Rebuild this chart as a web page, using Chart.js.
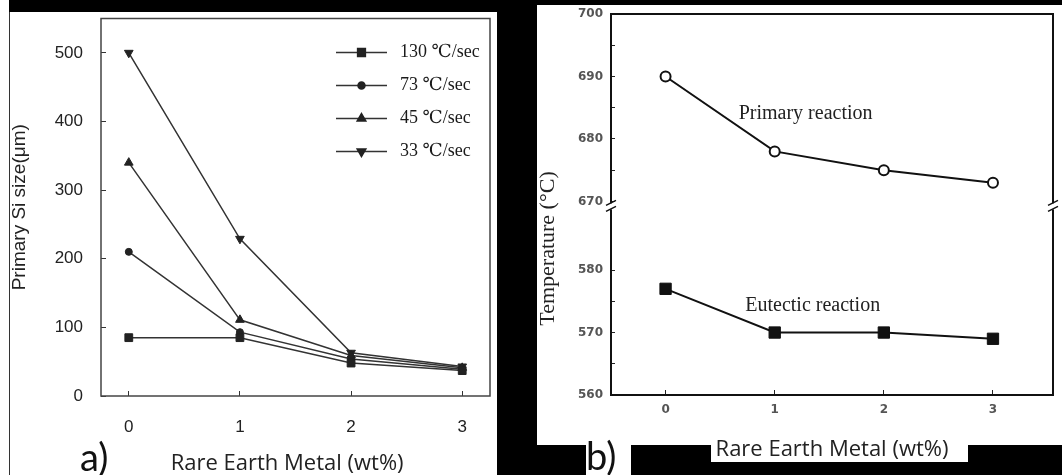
<!DOCTYPE html>
<html><head><meta charset="utf-8">
<script src="https://cdn.jsdelivr.net/npm/chart.js@4.4.1/dist/chart.umd.min.js"></script>
<style>
html,body{margin:0;padding:0;background:#fff;width:1062px;height:475px;overflow:hidden;position:relative}
.blk{position:absolute;background:#000}
canvas{position:absolute}
#ca{left:10px;top:12px}
#cb{left:537px;top:5px}
.lbl{position:absolute;font-family:Lato,"Open Sans",sans-serif;font-size:38px;line-height:38px;color:#111}
</style></head><body>
<div class="blk" style="left:9px;top:0;width:528px;height:12px"></div>
<div class="blk" style="left:9px;top:12px;width:1px;height:463px;background:#333"></div>
<div class="blk" style="left:497px;top:0;width:40px;height:475px"></div>
<div class="blk" style="left:537px;top:0;width:525px;height:5px"></div>
<div class="blk" style="left:497px;top:445px;width:89px;height:30px"></div>
<div class="blk" style="left:631px;top:445px;width:80px;height:30px"></div>
<div class="blk" style="left:711px;top:462px;width:257px;height:13px"></div>
<div class="blk" style="left:968px;top:445px;width:94px;height:30px"></div>
<canvas id="ca" width="487" height="463"></canvas>
<canvas id="cb" width="525" height="465"></canvas>
<div class="lbl" style="left:80px;top:437px">a)</div>
<div class="lbl" style="left:586px;top:436px">b)</div>
<script>
// ---- data ----
const reX = [0, 1, 2, 3];
const legendLabels = ['130 \u2103/sec', '73 \u2103/sec', '45 \u2103/sec', '33 \u2103/sec'];
const size130 = [85, 85, 48, 37];
const size73 = [210, 93, 54, 39];
const size45 = [340, 111, 59, 41];
const size33 = [500, 229, 63, 43];
const sizeTicks = [0, 100, 200, 300, 400, 500];
const xTicks = [0, 1, 2, 3];
const primaryT = [690, 678, 675, 673];
const eutecticT = [577, 570, 570, 569];
const tempTicks = [560, 565, 570, 575, 580, 670, 675, 680, 685, 690, 695, 700];
const tempLabels = ['560', '', '570', '', '580', '670', '', '680', '', '690', '', '700'];
const xTitle = 'Rare Earth Metal (wt%)';

// broken temperature axis: 560-580 and 670-700 with a gap between
const BREAK_GAP = 11;
function toAxis(v) { return v >= 670 ? v - 670 + 20 + BREAK_GAP : v - 560; }
const pts = (ys, f) => reX.map((x, i) => ({x: x, y: f ? f(ys[i]) : ys[i]}));

function drawMarker(ctx, style, r, x, y, rot) {
  if (Chart.helpers && Chart.helpers.drawPoint) {
    Chart.helpers.drawPoint(ctx, {pointStyle: style, radius: r, rotation: rot || 0, borderWidth: 1}, x, y);
  }
}
const fitV = w => s => { s.width = w; s.paddingTop = 0; s.paddingBottom = 0; };
const fitH = h => s => { s.height = h; s.paddingLeft = 0; s.paddingRight = 0; };

const frame = {
  id: 'frame',
  beforeDatasetsDraw(chart, args, o) {
    const a = chart.chartArea, ctx = chart.ctx;
    ctx.save();
    ctx.strokeStyle = o.color; ctx.lineWidth = o.width;
    ctx.strokeRect(a.left, a.top, a.right - a.left, a.bottom - a.top);
    ctx.restore();
  }
};

const legendA = {
  id: 'legendA',
  afterDraw(chart) {
    const a = chart.chartArea, ctx = chart.ctx;
    ctx.save();
    chart.data.datasets.forEach((ds, i) => {
      const y = a.top + 34 + i * 33;
      const x0 = a.right - 154, x1 = a.right - 103;
      ctx.strokeStyle = ds.borderColor; ctx.lineWidth = ds.borderWidth;
      ctx.beginPath(); ctx.moveTo(x0, y); ctx.lineTo(x1, y); ctx.stroke();
      ctx.fillStyle = ds.pointBackgroundColor; ctx.strokeStyle = ds.pointBorderColor;
      drawMarker(ctx, ds.pointStyle, ds.pointRadius, (x0 + x1) / 2, y, ds.pointRotation);
      ctx.fillStyle = '#1a1a1a';
      ctx.font = '18px "Liberation Serif", "DejaVu Serif", serif';
      ctx.textBaseline = 'middle'; ctx.textAlign = 'left';
      ctx.fillText(ds.label, a.right - 90, y);
    });
    ctx.restore();
  }
};

const mk = (label, data, style, r, rot) => ({
  label: label, data: data, borderColor: '#333', borderWidth: 1.5,
  pointStyle: style, pointRadius: r, pointRotation: rot || 0,
  pointBackgroundColor: '#222', pointBorderColor: '#222', pointBorderWidth: 1,
  tension: 0, fill: false
});

new Chart(document.getElementById('ca'), {
  type: 'line',
  data: {
    datasets: [
      mk(legendLabels[0], pts(size130), 'rect', 5.5),
      mk(legendLabels[1], pts(size73), 'circle', 3.5),
      mk(legendLabels[2], pts(size45), 'triangle', 5),
      mk(legendLabels[3], pts(size33), 'triangle', 5, 180)
    ]
  },
  options: {
    responsive: false, animation: false, devicePixelRatio: 1,
    layout: {padding: {left: 0, top: 3, right: 7, bottom: 0}},
    plugins: {legend: {display: false}, tooltip: {enabled: false}, frame: {color: '#444', width: 1.5}},
    scales: {
      x: {
        type: 'linear', min: -0.25, max: 3.25,
        afterBuildTicks: s => { s.ticks = xTicks.map(v => ({value: v})); },
        afterFit: fitH(79),
        grid: {drawOnChartArea: false, drawTicks: true, tickLength: -5, color: '#333'},
        border: {display: false},
        ticks: {padding: 26, color: '#222', font: {family: '"Liberation Sans", Arial, sans-serif', size: 17}, callback: v => String(v)},
        title: {display: true, text: xTitle + '\u2002 ', color: '#222', padding: {top: 0, bottom: 0},
          font: {family: '"Open Sans", Lato, sans-serif', size: 22, lineHeight: 1}}
      },
      y: {
        type: 'linear', min: 0, max: 550,
        afterBuildTicks: s => { s.ticks = sizeTicks.map(v => ({value: v})); },
        afterFit: fitV(91),
        grid: {drawOnChartArea: false, drawTicks: true, tickLength: -5, color: '#333'},
        border: {display: false},
        ticks: {padding: 23, color: '#222', font: {family: '"Liberation Sans", Arial, sans-serif', size: 17}, callback: v => String(v)},
        title: {display: true, text: 'Primary Si size(\u03bcm)', color: '#222', padding: {top: 0, bottom: 0},
          font: {family: '"Liberation Sans", Arial, sans-serif', size: 19, lineHeight: 1}}
      }
    }
  },
  plugins: [frame, legendA]
});

const notesB = {
  id: 'notesB',
  afterDraw(chart) {
    const ctx = chart.ctx, xs = chart.scales.x, ys = chart.scales.y, a = chart.chartArea;
    ctx.save();
    ctx.fillStyle = '#222';
    ctx.font = '20px "Liberation Serif", "DejaVu Serif", serif';
    ctx.textBaseline = 'middle'; ctx.textAlign = 'left';
    ctx.fillText('Primary reaction', xs.getPixelForValue(0.67), ys.getPixelForValue(toAxis(684.1)));
    ctx.fillText('Eutectic reaction', xs.getPixelForValue(0.73), ys.getPixelForValue(toAxis(574.3)));
    // axis break marks
    const yb = ys.getPixelForValue(20 + BREAK_GAP - 0.8);
    [a.left, a.right].forEach(x => {
      ctx.fillStyle = '#fff';
      ctx.fillRect(x - 3, yb - 3, 6, 6);
      ctx.strokeStyle = '#111'; ctx.lineWidth = 1.5;
      ctx.beginPath();
      ctx.moveTo(x - 5, yb - 1); ctx.lineTo(x + 5, yb - 6);
      ctx.moveTo(x - 5, yb + 5); ctx.lineTo(x + 5, yb);
      ctx.stroke();
    });
    ctx.restore();
  }
};

new Chart(document.getElementById('cb'), {
  type: 'line',
  data: {
    datasets: [
      {label: 'Primary reaction', data: pts(primaryT, toAxis), borderColor: '#111', borderWidth: 2,
        pointStyle: 'circle', pointRadius: 5, pointBackgroundColor: '#fff', pointBorderColor: '#111', pointBorderWidth: 2, tension: 0},
      {label: 'Eutectic reaction', data: pts(eutecticT, toAxis), borderColor: '#111', borderWidth: 2,
        pointStyle: 'rect', pointRadius: 8, pointBackgroundColor: '#111', pointBorderColor: '#111', pointBorderWidth: 1, tension: 0}
    ]
  },
  options: {
    responsive: false, animation: false, devicePixelRatio: 1,
    layout: {padding: {left: 0, top: 8, right: 6, bottom: 0}},
    plugins: {legend: {display: false}, tooltip: {enabled: false}, frame: {color: '#111', width: 2}},
    scales: {
      x: {
        type: 'linear', min: -0.5, max: 3.55,
        afterBuildTicks: s => { s.ticks = xTicks.map(v => ({value: v})); },
        afterFit: fitH(75),
        grid: {drawOnChartArea: false, drawTicks: true, tickLength: -5, color: '#222'},
        border: {display: false},
        ticks: {padding: 13, color: '#555', font: {family: '"DejaVu Sans", sans-serif', size: 12, weight: 'bold'}, callback: v => String(v)},
        title: {display: true, text: xTitle, color: '#222', padding: {top: 0, bottom: 9},
          font: {family: '"Open Sans", Lato, sans-serif', size: 22, lineHeight: 1}}
      },
      y: {
        type: 'linear', min: 0, max: toAxis(700),
        afterBuildTicks: s => { s.ticks = tempTicks.map(v => ({value: toAxis(v)})); },
        afterFit: fitV(74),
        grid: {drawOnChartArea: false, drawTicks: true, tickLength: -4, color: '#222'},
        border: {display: false},
        ticks: {padding: 12, autoSkip: false, color: '#555', font: {family: '"DejaVu Sans", sans-serif', size: 12, weight: 'bold'},
          callback: (v, i) => tempLabels[i]},
        title: {display: true, text: 'Temperature (\u00b0C)\u2003\u2003\u2003\u2003', color: '#222', padding: {top: 0, bottom: 0},
          font: {family: '"Liberation Serif", "DejaVu Serif", serif', size: 22, lineHeight: 1}}
      }
    }
  },
  plugins: [frame, notesB]
});
</script>
</body></html>
